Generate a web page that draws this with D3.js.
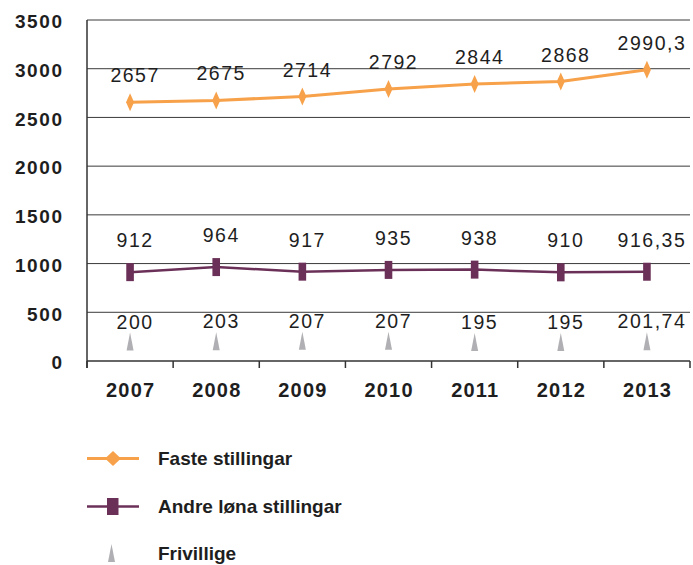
<!DOCTYPE html>
<html>
<head>
  <meta http-equiv="Content-Type" content="text/html;charset=utf-8" />
  <script src="https://cdn.jsdelivr.net/npm/d3@7"></script>
  <style type="text/css">
    body { margin: 0; background: #fff; }
    text { font-family: "Liberation Sans", Arial, sans-serif; fill: #1e1e1e; }
    .y-label { font-weight: bold; font-size: 19px; letter-spacing: 1.6px; }
    .x-label { font-weight: bold; font-size: 20px; letter-spacing: 1.2px; }
    .val { font-size: 19.5px; letter-spacing: 1.5px; }
    .legend-label { font-weight: bold; font-size: 19px; }
  </style>
</head>
<body>
<svg id="c" width="693" height="565"></svg>
<script>
  // chart data
  const years = ["2007", "2008", "2009", "2010", "2011", "2012", "2013"];
  const faste = [2657, 2675, 2714, 2792, 2844, 2868, 2990.3];
  const andre = [912, 964, 917, 935, 938, 910, 916.35];
  const frivillige = [200, 203, 207, 207, 195, 195, 201.74];
  const yTicks = [0, 500, 1000, 1500, 2000, 2500, 3000, 3500];
  const seriesNames = ["Faste stillingar", "Andre løna stillingar", "Frivillige"];

  const orange = "#f7a14a", purple = "#6b3058", grey = "#b0b0b4";

  const svg = d3.select("#c");
  const plotL = 87, plotR = 690, plotT = 20, plotB = 361;

  const x = d3.scaleBand().domain(years).range([plotL, plotR]);
  const y = d3.scaleLinear().domain([0, 3500]).range([plotB, plotT]);
  const cx = d => x(d) + x.bandwidth() / 2;

  const fmt = v => String(v).replace(".", ",");

  // gridlines
  svg.append("g").selectAll("line")
    .data(yTicks.filter(t => t > 0))
    .join("line")
    .attr("x1", plotL).attr("x2", plotR)
    .attr("y1", d => y(d)).attr("y2", d => y(d))
    .attr("stroke", "#3a3a3a").attr("stroke-width", 1);

  // y labels (letter-spacing adds a trailing gap, so shift right by it)
  svg.append("g").selectAll("text")
    .data(yTicks)
    .join("text")
    .attr("class", "y-label")
    .attr("x", 63.6).attr("y", d => y(d) + 8.3)
    .attr("text-anchor", "end")
    .text(d => d);

  // axes
  svg.append("line")
    .attr("x1", plotL).attr("x2", plotL).attr("y1", plotT).attr("y2", plotB + 7)
    .attr("stroke", "#333").attr("stroke-width", 1.5);
  svg.append("line")
    .attr("x1", plotL).attr("x2", plotR).attr("y1", plotB).attr("y2", plotB)
    .attr("stroke", "#333").attr("stroke-width", 1.5);
  svg.append("g").selectAll("line")
    .data(years.concat(["end"]))
    .join("line")
    .attr("x1", d => d === "end" ? plotR : x(d))
    .attr("x2", d => d === "end" ? plotR : x(d))
    .attr("y1", plotB).attr("y2", plotB + 7)
    .attr("stroke", "#333").attr("stroke-width", 1.5);

  svg.append("g").selectAll("text")
    .data(years)
    .join("text")
    .attr("class", "x-label")
    .attr("x", d => cx(d) + 0.6).attr("y", 397)
    .attr("text-anchor", "middle")
    .text(d => d);

  const line = d3.line().x((d, i) => cx(years[i])).y(d => y(d));

  // faste stillingar
  svg.append("path").datum(faste)
    .attr("d", line).attr("fill", "none")
    .attr("stroke", orange).attr("stroke-width", 3);
  const diamond = "M0,-9L4,0L0,9L-4,0Z";
  svg.append("g").selectAll("path")
    .data(faste)
    .join("path")
    .attr("d", diamond)
    .attr("transform", (d, i) => `translate(${cx(years[i])},${y(d)})`)
    .attr("fill", orange);

  // andre løna stillingar
  svg.append("path").datum(andre)
    .attr("d", line).attr("fill", "none")
    .attr("stroke", purple).attr("stroke-width", 2.5);
  svg.append("g").selectAll("rect")
    .data(andre)
    .join("rect")
    .attr("x", (d, i) => cx(years[i]) - 3.8)
    .attr("y", d => y(d) - 9)
    .attr("width", 7.6).attr("height", 18)
    .attr("fill", purple);

  // frivillige
  const tri = "M0,-9L3.5,9L-3.5,9Z";
  svg.append("g").selectAll("path")
    .data(frivillige)
    .join("path")
    .attr("d", tri)
    .attr("transform", (d, i) => `translate(${cx(years[i])},${y(d)})`)
    .attr("fill", grey);

  // value labels, baseline offset above each marker
  const labelSets = [[faste, -20], [andre, -25], [frivillige, -13]];
  labelSets.forEach(([vals, off]) => {
    svg.append("g").selectAll("text")
      .data(vals)
      .join("text")
      .attr("class", "val")
      .attr("x", (d, i) => cx(years[i]) + 5)
      .attr("y", d => y(d) + off)
      .attr("text-anchor", "middle")
      .text(d => fmt(d));
  });

  // legend
  const legY = [458.5, 506.5, 553];
  const leg = svg.append("g");
  leg.append("line").attr("x1", 87).attr("x2", 139).attr("y1", legY[0]).attr("y2", legY[0])
    .attr("stroke", orange).attr("stroke-width", 3);
  leg.append("path").attr("d", "M0,-7.5L8,0L0,7.5L-8,0Z")
    .attr("transform", `translate(113,${legY[0]})`).attr("fill", orange);
  leg.append("line").attr("x1", 87).attr("x2", 139).attr("y1", legY[1]).attr("y2", legY[1])
    .attr("stroke", purple).attr("stroke-width", 2.5);
  leg.append("rect").attr("x", 107).attr("y", legY[1] - 8.5).attr("width", 11.5).attr("height", 17)
    .attr("fill", purple);
  leg.append("path").attr("d", tri)
    .attr("transform", `translate(111.5,${legY[2]})`).attr("fill", grey);
  leg.selectAll("text")
    .data(seriesNames)
    .join("text")
    .attr("class", "legend-label")
    .attr("x", 158).attr("y", (d, i) => legY[i] + 6.8)
    .text(d => d);
</script>
</body>
</html>
